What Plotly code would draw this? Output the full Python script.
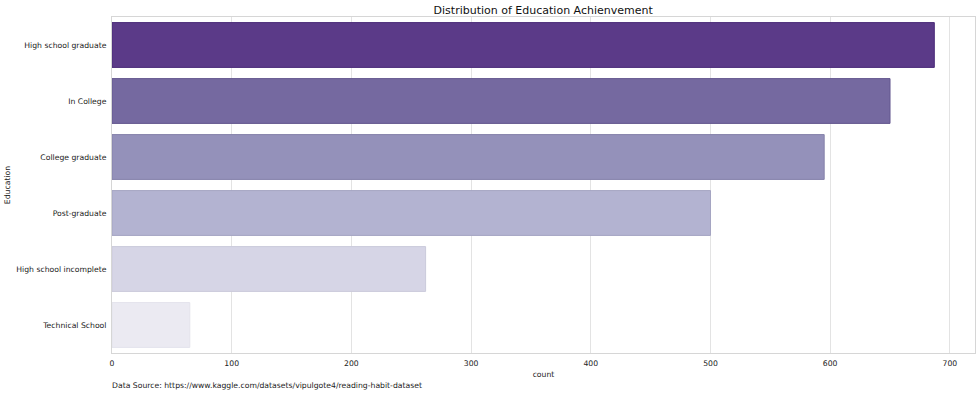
import plotly.graph_objects as go

categories = ["High school graduate", "In College", "College graduate", "Post-graduate",
              "High school incomplete", "Technical School"]
counts = [687, 650, 595, 500, 262, 65]
colors = ["#5b3a88", "#7569a0", "#9491ba", "#b3b3d1", "#d6d5e6", "#ebeaf2"]
edge_colors = ["#4a2a78", "#64588f", "#8481a9", "#a4a4c2", "#cbcadb", "#e4e3ec"]

FONT = "DejaVu Sans"

fig = go.Figure(go.Bar(
    x=counts, y=categories, orientation="h",
    marker=dict(color=colors, line=dict(color=edge_colors, width=1)),
    width=0.8,
))

fig.update_layout(
    width=980, height=395,
    margin=dict(l=112, r=5, t=17, b=42, autoexpand=False),
    paper_bgcolor="white", plot_bgcolor="white",
    font=dict(family=FONT, size=7.7, color="#222222"),
    title=dict(text="Distribution of Education Achienvement", x=0.5543, xanchor="center",
               y=0.975, yanchor="middle", font=dict(family=FONT, size=11, color="#111111")),
    showlegend=False,
    xaxis=dict(range=[0, 721], tickvals=[0, 100, 200, 300, 400, 500, 600, 700],
               showgrid=True, gridcolor="#e3e3e3", gridwidth=1.3,
               zeroline=False, showline=True, linecolor="#d6d6d6", mirror=True,
               ticks="", ticklen=0, automargin=False, ticklabelstandoff=3,
               title=dict(text="count", font=dict(size=7.7), standoff=4),
               tickfont=dict(size=7.7)),
    yaxis=dict(categoryorder="array", categoryarray=categories, autorange=False,
               range=[5.5, -0.5], showgrid=False, zeroline=False,
               showline=True, linecolor="#d6d6d6", mirror=True,
               ticks="", ticklen=0, automargin=False, ticklabelstandoff=3,
               title=dict(text="Education", font=dict(size=7.7), standoff=4),
               tickfont=dict(size=7.7)),
    annotations=[dict(text="Data Source: https://www.kaggle.com/datasets/vipulgote4/reading-habit-dataset",
                      xref="paper", yref="paper", x=0, y=-0.098, xanchor="left", yanchor="middle",
                      xshift=-2, showarrow=False,
                      font=dict(size=7.7, family=FONT, color="#222222"))],
)

fig.write_html("out.html", config={"displayModeBar": False},
               post_script="document.body.style.margin='0';document.body.style.overflow='hidden';")
